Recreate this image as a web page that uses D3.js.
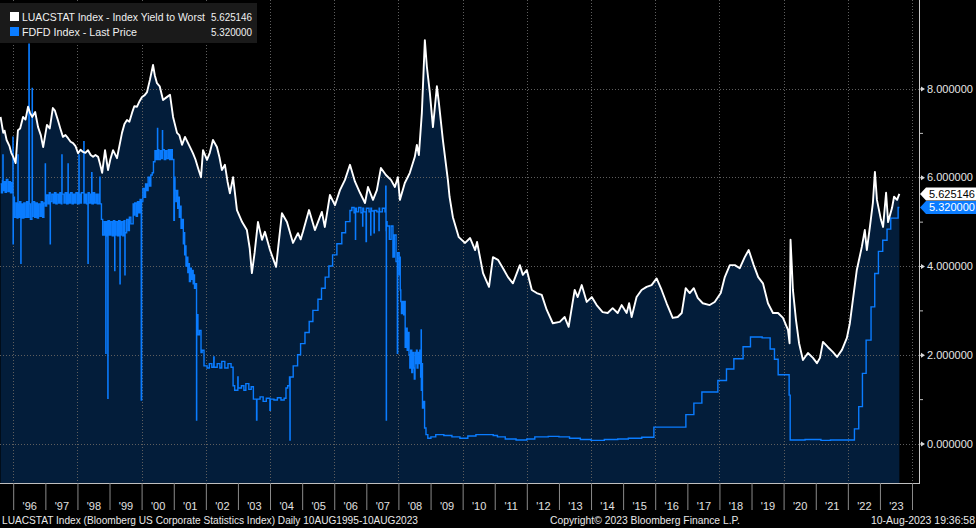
<!DOCTYPE html>
<html><head><meta charset="utf-8">
<script src="https://cdn.jsdelivr.net/npm/d3@7"></script>
<style>
html,body{margin:0;padding:0;background:#000;}
svg{display:block;font-family:"Liberation Sans",Arial,sans-serif;}
</style></head><body>
<svg id="c" width="976" height="528"></svg>
<script>
// ---------- DATA ----------
const luacDates = ["1995-08-10","1995-08-28","1995-09-10","1995-09-25","1995-10-18","1995-11-20","1995-12-10","1996-01-02","1996-01-29","1996-02-24","1996-03-20","1996-04-22","1996-05-20","1996-06-18","1996-07-10","1996-08-04","1996-09-07","1996-10-10","1996-11-10","1996-12-07",
"1997-01-19","1997-02-20","1997-03-27","1997-04-20","1997-05-23","1997-06-20","1997-07-20","1997-08-18","1997-09-16","1997-10-15","1997-11-12","1997-12-10",
"1998-01-08","1998-02-05","1998-03-05","1998-04-01","1998-05-01","1998-06-01","1998-06-28","1998-07-25","1998-08-24","1998-09-15","1998-10-09","1998-11-11","1998-12-15",
"1999-01-10","1999-02-10","1999-03-27","1999-05-23","1999-06-20","1999-07-19","1999-08-15","1999-09-14","1999-10-10","1999-11-10","1999-12-05",
"2000-01-06","2000-02-05","2000-03-03","2000-04-05","2000-05-10","2000-05-30","2000-06-24","2000-07-25","2000-09-01","2000-10-10","2000-11-19","2000-12-24",
"2001-02-07","2001-03-05","2001-04-05","2001-05-09","2001-07-05","2001-08-08","2001-09-05","2001-10-04","2001-11-07","2001-11-30",
"2002-01-14","2002-02-15","2002-03-23","2002-05-07","2002-06-05","2002-07-03","2002-08-06","2002-09-05","2002-10-02","2002-11-07","2002-12-21",
"2003-02-18","2003-04-13","2003-05-15","2003-06-09","2003-07-10","2003-08-17","2003-10-02","2003-11-04",
"2004-01-01","2004-03-10","2004-05-16","2004-07-12","2004-09-19","2004-11-14","2004-12-15",
"2005-01-10","2005-03-20","2005-05-26","2005-08-13","2005-09-16","2005-11-13",
"2006-01-09","2006-03-07","2006-05-03","2006-06-29","2006-08-25","2006-10-21","2006-12-17",
"2007-01-20","2007-03-18","2007-05-01","2007-06-16","2007-08-12","2007-10-08","2007-11-22","2007-12-26",
"2008-01-18","2008-03-14","2008-05-10","2008-07-06","2008-07-29","2008-08-21","2008-09-24","2008-10-28","2008-11-20","2008-12-24",
"2009-01-28","2009-03-14","2009-04-06","2009-05-21","2009-07-17","2009-08-05","2009-09-12","2009-11-18",
"2010-01-29","2010-03-27","2010-05-23","2010-06-14","2010-08-21","2010-10-28","2010-12-12",
"2011-02-07","2011-04-05","2011-06-01","2011-07-27","2011-10-14","2011-11-17",
"2012-01-01","2012-02-27","2012-04-23","2012-06-19","2012-08-15","2012-10-23",
"2013-01-10","2013-03-07","2013-04-21","2013-06-29","2013-08-02","2013-09-17","2013-11-13",
"2014-01-09","2014-03-06","2014-05-13","2014-07-09","2014-09-04","2014-10-31","2014-12-15",
"2015-02-10","2015-03-10","2015-04-08","2015-06-03","2015-07-30","2015-09-25","2015-11-21",
"2016-01-17","2016-03-14","2016-05-10","2016-07-18","2016-09-13","2016-10-29","2016-12-13",
"2017-01-28","2017-03-15","2017-04-29","2017-06-25","2017-09-12","2017-11-08",
"2018-01-16","2018-03-03","2018-04-29","2018-06-25","2018-08-20","2018-10-16","2018-11-30",
"2019-01-26","2019-03-18","2019-05-11","2019-07-07","2019-09-02","2019-10-30","2019-12-25",
"2020-02-20","2020-03-09","2020-03-20","2020-04-16","2020-05-21","2020-06-25","2020-08-08","2020-10-04","2020-11-30",
"2021-01-14","2021-02-18","2021-03-24","2021-05-20","2021-07-16","2021-08-31","2021-10-26","2021-12-21",
"2022-01-24","2022-02-27","2022-04-13","2022-06-09","2022-07-13","2022-08-05","2022-09-09","2022-10-13","2022-11-05","2022-11-28",
"2023-01-13","2023-02-06","2023-03-12","2023-04-04","2023-05-19","2023-06-11","2023-07-15","2023-08-10"];
const luacValues = [7.36,7.15,7.00,7.05,6.84,6.70,6.55,6.46,6.32,7.06,7.10,7.36,7.30,7.59,7.45,7.36,7.47,7.13,6.95,6.68,
7.18,7.10,7.56,7.50,7.29,7.10,6.91,6.95,6.88,6.80,6.77,6.70,
6.54,6.62,6.57,6.55,6.61,6.50,6.46,6.50,6.46,6.30,6.10,6.61,6.16,
6.40,6.61,6.43,7.00,7.20,7.29,7.25,7.45,7.60,7.59,7.70,
7.81,7.85,7.92,8.20,8.53,8.30,8.12,8.05,7.74,7.80,7.86,7.36,
7.00,6.95,6.73,6.91,6.68,6.54,6.40,6.21,6.00,6.61,
6.39,6.55,6.84,6.68,6.45,6.16,6.28,5.90,5.64,6.00,5.26,
4.99,4.81,4.40,3.84,4.30,4.99,4.59,4.77,
4.36,3.98,5.19,4.99,4.52,4.74,4.60,
4.77,5.26,4.81,5.22,4.88,5.60,
5.37,5.71,5.94,6.28,5.90,5.65,5.42,
5.78,5.49,5.71,6.21,6.05,5.94,5.78,6.00,
5.49,5.87,6.10,6.46,6.73,6.50,7.45,9.09,8.49,7.90,
7.13,8.05,7.67,6.84,5.94,5.56,5.10,4.65,
4.52,4.63,4.36,4.54,3.84,3.53,4.20,
4.14,3.95,3.75,3.61,4.02,3.80,
3.91,3.46,3.39,3.35,3.01,2.71,
2.74,2.85,2.63,3.46,3.30,3.57,3.19,
3.30,3.12,2.96,2.94,3.05,2.94,3.12,
2.94,3.16,2.85,3.30,3.46,3.53,3.57,
3.72,3.46,3.16,2.83,2.85,2.94,3.50,
3.39,3.50,3.28,3.16,3.12,3.19,
3.39,3.75,4.02,4.02,3.95,4.20,4.36,
4.02,3.75,3.61,3.16,2.94,2.94,2.83,
2.56,2.26,4.59,3.46,2.78,2.26,1.88,2.04,1.93,
1.81,1.93,2.29,2.17,2.06,1.95,2.11,2.38,
2.71,3.23,3.91,4.43,4.81,4.36,4.88,5.42,6.12,5.49,
5.04,4.88,5.65,4.99,5.31,5.56,5.49,5.625146];

const fdfdDates = [
"1995-08-10","1995-08-20","1995-09-01","1995-09-06","1995-09-08","1995-09-15","1995-10-01","1995-10-15","1995-11-01","1995-11-15","1995-12-01","1995-12-15","1995-12-29","1995-12-31",
"1996-01-02","1996-01-15","1996-02-01","1996-02-15","1996-02-24","1996-02-26","1996-03-01","1996-03-15","1996-03-28","1996-03-30","1996-04-15","1996-05-01","1996-05-15","1996-06-01","1996-06-15","1996-06-28","1996-07-01","1996-07-15","1996-08-01","1996-08-04","1996-08-06","1996-08-15","1996-09-01","1996-09-15","1996-10-01","1996-10-15","1996-11-01","1996-11-15","1996-12-01","1996-12-15","1996-12-31",
"1997-01-02","1997-01-15","1997-02-01","1997-02-15","1997-02-25","1997-02-27","1997-03-15","1997-04-01","1997-04-15","1997-05-01","1997-05-15","1997-06-01","1997-06-15","1997-07-01","1997-07-08","1997-07-10","1997-08-01","1997-08-15","1997-09-01","1997-09-16","1997-09-18","1997-10-01","1997-10-15","1997-11-01","1997-11-15","1997-12-01","1997-12-15",
"1998-01-02","1998-01-18","1998-01-20","1998-02-01","1998-02-15","1998-03-15","1998-03-17","1998-04-01","1998-04-15","1998-05-01","1998-05-03","1998-05-15","1998-06-01","1998-06-12","1998-06-15","1998-07-01","1998-07-15","1998-08-01","1998-08-15","1998-09-01","1998-09-13","1998-09-15","1998-10-01","1998-10-15","1998-11-01","1998-11-15","1998-11-20","1998-11-22","1998-12-01","1998-12-13","1998-12-15","1998-12-31",
"1999-01-15","1999-02-01","1999-02-15","1999-03-01","1999-03-03","1999-03-15","1999-04-01","1999-04-15","1999-04-30","1999-05-02","1999-05-15","1999-06-01","1999-06-15","1999-06-25","1999-06-27","1999-07-15","1999-08-01","1999-08-15","1999-09-01","1999-09-27","1999-10-01","1999-10-15","1999-11-01","1999-11-15","1999-12-01","1999-12-15","1999-12-28",
"2000-01-01","2000-01-15","2000-02-01","2000-02-15","2000-03-01","2000-03-15","2000-04-01","2000-04-15","2000-05-01","2000-05-15","2000-06-01","2000-06-15","2000-06-30","2000-07-02","2000-07-15","2000-08-01","2000-08-15","2000-08-25","2000-08-27","2000-09-15","2000-10-01","2000-10-15","2000-11-01","2000-11-15","2000-12-01","2000-12-15",
"2001-01-02","2001-01-08","2001-01-15","2001-01-25","2001-02-05","2001-02-15","2001-02-25","2001-03-05","2001-03-15","2001-03-25","2001-04-05","2001-04-20","2001-04-28","2001-05-05","2001-05-12","2001-05-20","2001-06-01","2001-06-10","2001-06-20","2001-06-28","2001-07-10","2001-07-20","2001-08-01","2001-08-10","2001-08-20","2001-08-25","2001-09-10","2001-09-17","2001-09-19","2001-10-03","2001-10-20","2001-11-07","2001-11-20","2001-12-11",
"2002-01-15","2002-02-10","2002-03-10","2002-04-01","2002-04-05","2002-05-10","2002-06-10","2002-07-01","2002-08-05","2002-09-10","2002-10-15","2002-11-07","2002-11-25","2002-12-31",
"2003-01-03","2003-02-10","2003-03-10","2003-04-01","2003-05-05","2003-06-01","2003-06-26","2003-08-01","2003-08-05","2003-09-10","2003-10-15","2003-11-20","2003-12-31",
"2004-01-05","2004-02-15","2004-03-25","2004-05-05","2004-06-10","2004-07-01","2004-07-20","2004-08-10","2004-08-15","2004-08-17","2004-09-21","2004-11-10","2004-12-14",
"2005-02-02","2005-03-22","2005-05-03","2005-06-30","2005-08-09","2005-09-20","2005-11-01","2005-12-13",
"2006-01-31","2006-03-28","2006-05-10","2006-06-29","2006-07-20","2006-08-15","2006-08-30","2006-09-01","2006-09-10","2006-10-05","2006-11-01","2006-11-20","2006-11-22","2006-12-01","2006-12-29",
"2007-01-02","2007-02-01","2007-02-20","2007-02-22","2007-03-01","2007-03-30","2007-04-02","2007-05-01","2007-05-25","2007-05-27","2007-06-01","2007-07-02","2007-08-01","2007-08-10","2007-08-13","2007-08-16","2007-08-18","2007-08-25","2007-09-20","2007-10-10","2007-10-31","2007-11-15","2007-12-05","2007-12-20","2007-12-24",
"2008-01-10","2008-01-15","2008-01-22","2008-01-28","2008-02-05","2008-02-15","2008-03-01","2008-03-10","2008-03-18","2008-03-28","2008-04-10","2008-04-20","2008-05-01","2008-05-10","2008-05-20","2008-06-01","2008-06-10","2008-06-20","2008-06-30","2008-07-08","2008-07-15","2008-07-25","2008-08-01","2008-08-10","2008-08-20","2008-09-01","2008-09-10","2008-09-16","2008-09-18","2008-09-25","2008-10-01","2008-10-15","2008-10-25","2008-11-10","2008-12-01",
"2009-01-05","2009-03-01","2009-06-01","2009-09-01","2009-12-01","2010-03-01","2010-06-01","2010-12-15","2011-02-01","2011-05-01","2011-09-01",
"2012-01-01","2012-04-01","2012-09-01","2013-01-01","2013-05-01","2013-09-01","2014-01-01","2014-06-01","2014-11-01","2015-03-01","2015-08-01",
"2015-12-17","2016-12-15","2017-03-16","2017-06-15","2017-12-14","2018-03-22","2018-06-14","2018-09-27","2018-12-20",
"2019-05-02","2019-08-01","2019-09-19","2019-10-31","2020-03-04","2020-03-16","2020-09-01","2021-03-01","2021-06-17","2021-12-01",
"2022-03-17","2022-05-05","2022-06-16","2022-07-28","2022-09-22","2022-11-03","2022-12-15",
"2023-02-02","2023-03-23","2023-05-04","2023-07-27","2023-08-10"];
const fdfdValues = [
5.85,5.65,5.92,6.50,5.70,5.90,5.66,5.95,5.68,5.90,5.65,5.88,6.90,4.50,
5.55,5.10,5.42,5.08,6.50,5.40,5.10,5.45,4.06,5.40,5.08,5.42,5.10,5.45,5.10,9.00,5.40,5.05,5.42,8.00,5.12,5.45,5.10,5.42,5.08,5.40,5.12,5.45,5.10,5.42,6.30,
5.35,5.60,5.40,5.65,4.50,5.45,5.62,5.42,5.65,5.40,5.62,5.42,5.65,5.40,6.50,5.62,5.42,5.65,5.40,6.30,5.62,5.42,5.65,5.40,5.62,5.42,5.65,
5.40,6.50,5.62,5.42,5.65,6.80,5.42,5.62,5.40,4.06,5.65,5.42,5.62,6.10,5.40,5.65,5.42,5.62,5.40,5.62,6.00,5.40,5.05,4.70,5.00,4.70,2.03,5.00,4.68,1.02,5.02,4.70,
5.00,4.68,5.02,3.90,4.70,5.00,4.68,5.02,3.60,4.70,5.00,4.68,5.02,3.80,4.75,5.05,4.80,5.10,4.95,5.40,5.15,5.42,5.12,5.45,5.20,5.50,0.98,
5.45,5.75,5.55,5.85,5.70,6.00,5.80,6.05,6.10,6.35,6.60,6.40,7.10,6.62,6.40,6.60,6.42,7.05,6.62,6.40,6.60,6.42,6.62,6.40,6.62,6.40,
5.03,6.00,5.70,5.45,5.70,5.30,5.55,5.10,5.35,4.85,5.05,4.50,4.75,4.25,4.45,4.00,4.20,3.85,4.05,3.65,3.95,3.70,3.90,3.60,3.80,3.50,3.60,0.53,2.90,2.45,2.55,2.05,2.10,1.75,
1.70,1.80,1.72,1.95,1.72,1.80,1.70,1.85,1.70,1.80,1.72,1.30,1.20,1.50,
1.25,1.30,1.20,1.35,1.22,1.28,1.00,0.53,1.00,1.05,0.95,1.02,0.75,
1.00,0.98,1.03,0.98,1.02,1.25,1.30,1.50,0.08,1.50,1.75,2.00,2.25,
2.50,2.75,3.00,3.25,3.50,3.75,4.00,4.25,
4.50,4.75,5.00,5.25,5.32,5.20,4.60,5.30,5.22,5.32,5.20,4.90,5.30,5.22,4.55,
5.30,5.22,4.70,5.30,5.24,4.75,5.25,5.22,4.80,5.30,5.22,5.30,5.22,5.80,4.80,0.53,5.00,4.90,4.60,4.90,4.20,4.70,4.10,2.03,4.30,
3.80,4.20,3.46,3.20,2.93,3.20,2.90,3.20,2.17,2.60,2.10,2.50,2.00,1.70,2.10,1.60,2.05,1.70,1.45,2.05,1.80,2.10,1.70,2.05,1.80,2.10,1.50,2.56,1.20,1.80,0.80,0.95,0.35,0.20,0.12,
0.15,0.20,0.18,0.15,0.12,0.17,0.20,0.18,0.15,0.10,0.08,
0.10,0.15,0.16,0.15,0.12,0.09,0.07,0.09,0.10,0.12,0.14,
0.37,0.65,0.91,1.16,1.42,1.68,1.91,2.18,2.40,
2.38,2.13,1.90,1.55,1.09,0.08,0.09,0.07,0.08,0.08,
0.33,0.83,1.58,2.33,3.08,3.83,4.33,
4.58,4.83,5.08,5.32,5.32];

const yTicks = [0,1,2,3,4,5,6,7,8];
const yearLabels = ["'96","'97","'98","'99","'00","'01","'02","'03","'04","'05","'06","'07","'08","'09","'10","'11","'12","'13","'14","'15","'16","'17","'18","'19","'20","'21","'22","'23"];
const legendNames = ["LUACSTAT Index - Index Yield to Worst","FDFD Index - Last Price"];
const legendLast = ["5.625146","5.320000"];
const lastValues = [5.625146, 5.32];
const footerLeft = "LUACSTAT Index (Bloomberg US Corporate Statistics Index)  Daily 10AUG1995-10AUG2023";
const footerMid = "Copyright\u00A9 2023 Bloomberg Finance L.P.";
const footerRight = "10-Aug-2023 19:36:58";

// ---------- CHART ----------
const parse = d3.timeParse("%Y-%m-%d");
const luac = luacDates.map((d,i)=>({d:parse(d), v:luacValues[i]}));
const fdfd = fdfdDates.map((d,i)=>({d:parse(d), v:fdfdValues[i]}));

const WHITE="#ffffff", BLUE="#0a7cff", NAVY="#031d3a", GRID="#5e5e5e";
const FONT="'Liberation Sans',Arial,sans-serif";
const axisX = 919, plotBottom = 483;

const svg = d3.select("#c");
svg.append("rect").attr("width",976).attr("height",528).attr("fill","#000");

const x = d3.scaleTime().domain([new Date(1996,0,1), new Date(2024,0,1)]).range([13.2, 912]);
const y = d3.scaleLinear().domain([0,8]).range([443.5, 88.5]);

// fill under LUACSTAT
svg.append("path").datum(luac)
  .attr("fill",NAVY)
  .attr("d", d3.area().x(p=>x(p.d)).y0(plotBottom).y1(p=>y(p.v)));

// grid
const gridG = svg.append("g").attr("stroke",GRID).attr("stroke-width",1).attr("stroke-dasharray","1,2");
gridG.selectAll("line.h").data(yTicks.filter(t=>t%2===0)).join("line")
  .attr("x1",0).attr("x2",axisX).attr("y1",t=>Math.round(y(t))+0.5).attr("y2",t=>Math.round(y(t))+0.5);
const gridYears = d3.range(1996,2025,2).map(yr=>new Date(yr,0,1));
gridG.selectAll("line.v").data(gridYears).join("line")
  .attr("y1",0).attr("y2",plotBottom).attr("x1",d=>Math.round(x(d))+0.5).attr("x2",d=>Math.round(x(d))+0.5);

// FDFD line
svg.append("path").datum(fdfd)
  .attr("fill","none").attr("stroke",BLUE).attr("stroke-width",1.4)
  .attr("d", d3.line().curve(d3.curveStepAfter).x(p=>x(p.d)).y(p=>y(p.v)));

// LUACSTAT line
svg.append("path").datum(luac)
  .attr("fill","none").attr("stroke",WHITE).attr("stroke-width",1.9).attr("stroke-linejoin","round")
  .attr("d", d3.line().x(p=>x(p.d)).y(p=>y(p.v)));

// right axis
const ra = svg.append("g").attr("transform",`translate(${axisX},0)`)
  .call(d3.axisRight(y).tickValues(yTicks).tickSize(0).tickPadding(8)
    .tickFormat(t=> t%2===0 ? d3.format(".6f")(t) : ""));
ra.select(".domain").remove();
ra.selectAll("text").attr("fill","#e6e6e6").attr("font-size","11px").attr("font-family",FONT);
ra.selectAll(".tick").each(function(t){
  const g = d3.select(this);
  if (t%2===0) {
    g.append("path").attr("d","M0,-0.6H2V-2.6L6,0L2,2.6V0.6H0Z").attr("fill","#d8d8d8");
  } else {
    g.append("line").attr("x1",0).attr("x2",4).attr("stroke","#bdbdbd");
  }
});
svg.append("line").attr("x1",axisX+0.5).attr("x2",axisX+0.5).attr("y1",0).attr("y2",plotBottom)
  .attr("stroke","#c8c8c8").attr("stroke-width",1);

// bottom axis: baseline + separators + labels
svg.append("line").attr("x1",0).attr("x2",axisX+1).attr("y1",plotBottom+0.5).attr("y2",plotBottom+0.5)
  .attr("stroke","#bfbfbf");
const sepYears = d3.range(1996,2025).map(yr=>new Date(yr,0,1));
const sepAx = svg.append("g").attr("transform",`translate(0,${plotBottom})`)
  .call(d3.axisBottom(x).tickValues(sepYears).tickSize(27).tickFormat(""));
sepAx.select(".domain").remove();
sepAx.selectAll(".tick line").attr("stroke","#8a8a8a");
const midYears = d3.range(1996,2024).map(yr=>new Date(yr,6,2));
const labAx = svg.append("g").attr("transform",`translate(0,${plotBottom})`)
  .call(d3.axisBottom(x).tickValues(midYears).tickSize(0).tickFormat((d,i)=>yearLabels[i]));
labAx.select(".domain").remove();
labAx.selectAll("text").attr("y",19).attr("fill","#e0e0e0").attr("font-size","11px").attr("font-family",FONT);

// value tags
const tagColors = [[WHITE,"#000"],[BLUE,"#fff"]];
lastValues.forEach((v,i)=>{
  const yv = y(v);
  svg.append("path")
    .attr("d",`M${axisX+1},${yv}L${axisX+7},${yv-6.5}H976V${yv+6.5}H${axisX+7}Z`)
    .attr("fill",tagColors[i][0]);
  svg.append("text").attr("x",929).attr("y",yv+4).attr("fill",tagColors[i][1])
    .attr("font-size","11px").attr("font-family",FONT).text(legendLast[i]);
});

// legend
const lg = svg.append("g").attr("font-family",FONT);
lg.append("rect").attr("x",0).attr("y",3).attr("width",257).attr("height",40).attr("fill","#1a1a1a");
const legendColors = [WHITE, BLUE];
const legendWidths = [183, 115];
legendNames.forEach((n,i)=>{
  const by = 20.5 + i*15;
  lg.append("rect").attr("x",10).attr("y",by-8.5).attr("width",9).attr("height",9).attr("fill",legendColors[i]);
  lg.append("text").attr("x",22).attr("y",by).attr("fill","#f0f0f0").attr("font-size","10.5px")
    .attr("textLength",legendWidths[i]).attr("lengthAdjust","spacingAndGlyphs").text(n);
  lg.append("text").attr("x",252).attr("y",by).attr("text-anchor","end").attr("fill","#f0f0f0")
    .attr("font-size","10.5px").attr("textLength",41).attr("lengthAdjust","spacingAndGlyphs").text(legendLast[i]);
});

// footer
const ft = svg.append("g").attr("fill","#e8e8e8").attr("font-size","10.5px").attr("font-family",FONT);
ft.append("text").attr("x",2).attr("y",524).attr("textLength",416).attr("lengthAdjust","spacingAndGlyphs").text(footerLeft);
ft.append("text").attr("x",550).attr("y",524).attr("textLength",190).attr("lengthAdjust","spacingAndGlyphs").text(footerMid);
ft.append("text").attr("x",975).attr("y",524).attr("text-anchor","end").attr("textLength",104).attr("lengthAdjust","spacingAndGlyphs").text(footerRight);
</script>
</body></html>
